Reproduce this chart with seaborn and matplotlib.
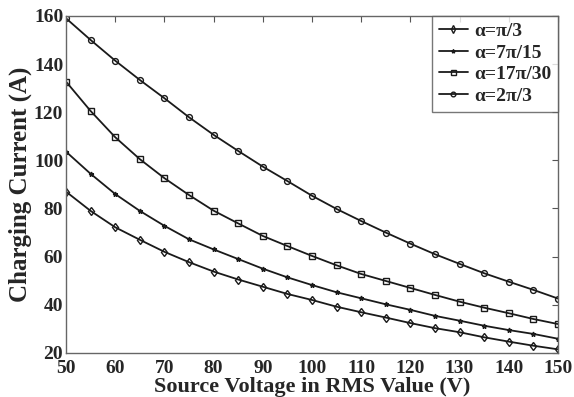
import numpy as np
import pandas as pd
import seaborn as sns
import matplotlib
matplotlib.use("Agg")
import matplotlib.pyplot as plt

# datos
voltaje = list(range(50, 155, 5))
i_pi3 = [87, 79, 72.2, 67, 62, 57.7, 53.8, 50.5, 47.5, 44.5, 42, 39.2, 36.9, 34.7,
         32.4, 30.3, 28.6, 26.5, 24.7, 23, 21.5]
i_7pi15 = [103.6, 94.4, 86, 79, 72.8, 67.2, 63, 59, 55, 51.4, 48.2, 45.2, 42.7, 40.2,
           37.9, 35.4, 33.4, 31.3, 29.5, 27.9, 25.9]
i_17pi30 = [132.7, 120.5, 109.6, 100.5, 92.6, 85.6, 79.1, 73.8, 68.6, 64.4, 60.3, 56.4,
            52.8, 49.9, 47, 44.1, 41.3, 38.8, 36.5, 34.1, 32]
i_2pi3 = [159, 150, 141.4, 133.4, 125.8, 117.9, 110.6, 103.9, 97.4, 91.4, 85.3, 79.8,
          74.8, 70, 65.4, 61, 57, 53.1, 49.6, 46.2, 42.6]
etiquetas = ["α=π/3", "α=7π/15", "α=17π/30", "α=2π/3"]
marcadores = {"α=π/3": "d", "α=7π/15": "*", "α=17π/30": "s", "α=2π/3": "o"}
tam = {"α=π/3": 4.5, "α=7π/15": 3.5, "α=17π/30": 4.5, "α=2π/3": 4.2}

series = [i_pi3, i_7pi15, i_17pi30, i_2pi3]
df = pd.concat([pd.DataFrame({"V": voltaje, "I": s, "alpha": e})
                for s, e in zip(series, etiquetas)], ignore_index=True)

sns.set_style("white")
plt.rcParams["font.family"] = ["Liberation Serif", "DejaVu Serif"]
plt.rcParams["font.weight"] = "bold"

fig = plt.figure(figsize=(5.74, 3.97), dpi=100)
ax = fig.add_axes([0.115, 0.111, 0.857, 0.849])

for e in etiquetas:
    d = df[df["alpha"] == e]
    sns.lineplot(data=d, x="V", y="I", ax=ax, color="#1a1a1a", lw=1.3,
                 marker=marcadores[e], markersize=tam[e], markerfacecolor="none",
                 markeredgecolor="#1a1a1a", markeredgewidth=1.0, label=e)

ax.set_xlim(50, 150)
ax.set_ylim(20, 160)
ax.set_xticks(range(50, 151, 10))
ax.set_yticks(range(20, 161, 20))
ax.tick_params(direction="in", top=True, right=True, length=4, labelsize=14,
               pad=2, color="#555555")
ax.tick_params(axis="x", pad=5)
for lab in ax.get_xticklabels() + ax.get_yticklabels():
    lab.set_fontweight("bold")
for sp in ax.spines.values():
    sp.set_color("#666666")
    sp.set_linewidth(1.0)

ax.set_xlabel("Source Voltage in RMS Value (V)", fontsize=16, fontweight="bold", labelpad=0)
ax.set_ylabel("Charging Current (A)", fontsize=18, fontweight="bold", labelpad=1)

leg = ax.legend(loc="upper right", borderaxespad=0, fontsize=14, handlelength=1.5,
                handletextpad=0.3, labelspacing=0.2, fancybox=False, markerscale=0.8,
                borderpad=0.35, frameon=True)
leg.get_frame().set_edgecolor("#555555")
leg.get_frame().set_linewidth(1.0)
for t in leg.get_texts():
    t.set_fontweight("bold")

fig.savefig("out.png", dpi=100)
